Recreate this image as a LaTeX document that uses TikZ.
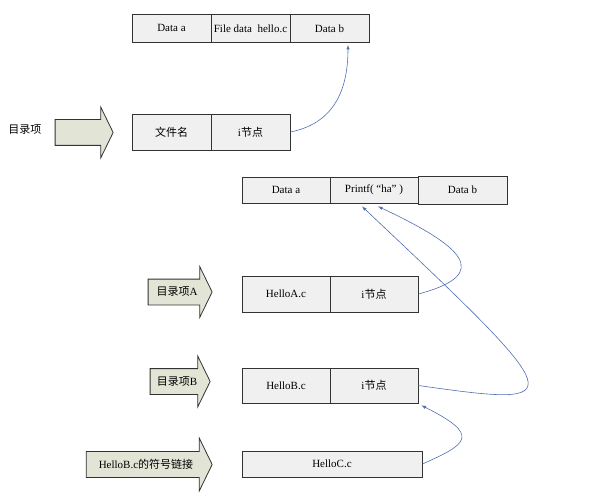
\documentclass[tikz,border=0pt]{standalone}
\usepackage{fontspec}
\setmainfont{Liberation Serif}
\newfontfamily\cjk{Noto Sans CJK SC}
\usetikzlibrary{shapes.arrows,calc}
\definecolor{cellfill}{RGB}{240,240,240}
\definecolor{entryfill}{RGB}{226,228,214}
\definecolor{linkblue}{RGB}{80,110,175}

\begin{document}
\begin{tikzpicture}[x=1pt,y=1pt,font=\fontsize{11}{13}\selectfont,
        cell/.style={draw=black!80,fill=cellfill,line width=0.8pt,minimum width=79pt,minimum height=28pt,inner sep=0pt},
        entry/.style={single arrow,draw=black!80,fill=entryfill,line width=0.8pt,inner sep=0pt,
            text height=16pt,text depth=9pt,
            single arrow head extend=12.5pt,single arrow tip angle=128,single arrow head indent=0pt},
        link/.style={-latex,draw=linkblue,line width=0.6pt}]
        \useasboundingbox (0,0) rectangle (589,-500);

        \node[cell] (dataa0) at (171.5,-28) {Data a};
        \node[cell] (filedata) at (250.5,-28.5) {File data\ \ hello.c};
        \node[cell] (datab0) at (329.5,-28.5) {Data b};

        \node (label0) at (25,-130) {{\cjk 目录项}};
        \node[entry,minimum height=58pt,minimum width=49pt] (entry0) at (81,-132.5) {};
        \node[cell,minimum height=36pt] (name0) at (171.5,-132) {{\cjk 文件名}};
        \node[cell,minimum height=36pt] (inode0) at (250.5,-132) {i{\cjk 节点}};

        \node[cell,minimum width=88pt,minimum height=26pt] (dataa1) at (286,-190) {Data a};
        \node[cell,minimum width=88pt,minimum height=26pt] (printf) at (374,-190) {Printf( “ha” )};
        \node[cell,minimum width=89pt,minimum height=28pt] (datab1) at (462.5,-190) {Data b};

        \node[entry,minimum height=64pt,minimum width=50pt] (entrya) at (177,-292) {{\cjk 目录项}A};
        \node[cell,minimum width=88pt,minimum height=36pt] (helloa) at (286,-294) {HelloA.c};
        \node[cell,minimum width=88pt,minimum height=36pt] (inodea) at (374,-294) {i{\cjk 节点}};

        \node[entry,minimum height=60pt,minimum width=49pt] (entryb) at (177,-381.5) {{\cjk 目录项}B};
        \node[cell,minimum width=88pt,minimum height=35pt] (hellob) at (286,-385.5) {HelloB.c};
        \node[cell,minimum width=88pt,minimum height=35pt] (inodeb) at (374,-385.5) {i{\cjk 节点}};

        \node[entry,minimum height=126pt,minimum width=53pt,single arrow head extend=13.5pt] (entryc) at (146,-464.5) {HelloB.c{\cjk 的符号链接}};
        \node[cell,minimum width=180pt,minimum height=26pt] (helloc) at (332,-464) {HelloC.c};

        \draw[link] (inode0.east) .. controls +(40,8) and +(0,-50) .. ($(datab0.south)+(18.5,-2)$);
        \draw[link] (inodea.east) .. controls +(75,20) and +(85,-40) .. ($(printf.south)+(4,-3)$);
        \draw[link] (inodeb.east) .. controls +(155,-22) and +(210,-198) .. ($(printf.south)+(-12,-3)$);
        \draw[link] (helloc.east) .. controls +(45,20) and +(60,-30) .. ($(inodeb.south east)+(3,-2)$);
    \end{tikzpicture}
\end{document}
